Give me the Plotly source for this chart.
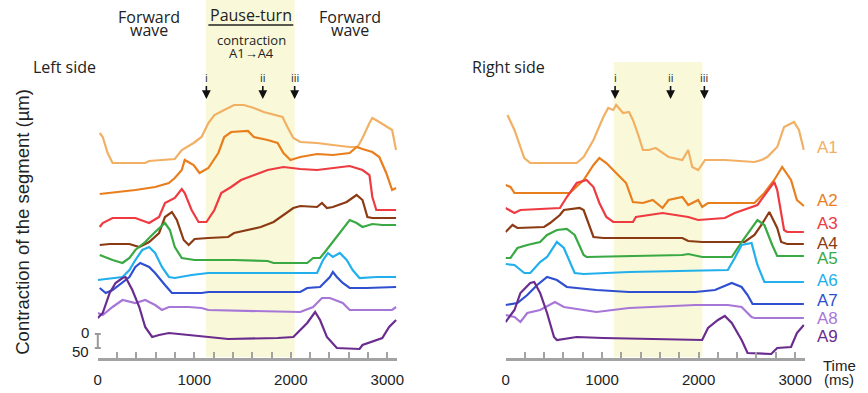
import plotly.graph_objects as go

W, H = 868, 393

# ---------------- data: time (ms) and stacked contraction trace level ----------------
# Left side
L_A1_T = [20, 51, 102, 153, 491, 532, 798, 870, 993, 1075, 1146, 1208, 1310, 1412, 1515, 1617, 1720, 1822, 1914, 1965, 2026, 2098, 2272, 2436, 2610, 2692, 2743, 2815, 2845, 2917, 3019, 3050, 3091]
L_A1_V = [225, 221, 205, 195, 195, 197, 199, 208, 215, 221, 235, 243, 248, 253, 253, 250, 246, 243, 241, 231, 220, 216, 215, 213, 211, 211, 220, 235, 240, 236, 230, 228, 208]
L_A2_T = [20, 123, 389, 594, 737, 798, 870, 901, 942, 993, 1054, 1146, 1249, 1310, 1382, 1556, 1617, 1760, 1863, 1924, 1996, 2098, 2272, 2436, 2610, 2682, 2743, 2845, 2917, 2989, 3050, 3091]
L_A2_V = [164, 165, 168, 171, 175, 180, 188, 198, 196, 193, 185, 190, 205, 221, 226, 227, 221, 218, 215, 205, 198, 201, 204, 203, 205, 211, 209, 206, 201, 185, 168, 170]
L_A3_T = [20, 51, 153, 389, 532, 635, 696, 798, 870, 901, 972, 1044, 1126, 1208, 1279, 1382, 1484, 1617, 1760, 1924, 2098, 2272, 2436, 2610, 2743, 2815, 2845, 2886, 3091]
L_A3_V = [131, 135, 140, 140, 135, 141, 155, 160, 169, 165, 148, 136, 136, 148, 165, 171, 178, 183, 188, 191, 189, 188, 190, 192, 188, 183, 161, 148, 148]
L_A4_T = [20, 123, 328, 430, 532, 635, 696, 768, 819, 890, 942, 1003, 1146, 1351, 1412, 1556, 1689, 1822, 1924, 2026, 2098, 2272, 2323, 2374, 2436, 2579, 2682, 2743, 2794, 2845, 3091]
L_A4_V = [113, 114, 114, 111, 116, 125, 141, 146, 138, 118, 113, 119, 120, 121, 125, 128, 131, 136, 143, 150, 152, 151, 155, 150, 151, 156, 163, 158, 141, 140, 140]
L_A5_T = [20, 153, 256, 328, 389, 491, 594, 696, 747, 798, 870, 1003, 1412, 1760, 1822, 2170, 2231, 2303, 2354, 2436, 2508, 2610, 2682, 2743, 2845, 2948, 3091]
L_A5_V = [103, 98, 95, 100, 108, 116, 126, 135, 128, 111, 100, 98, 98, 97, 95, 95, 100, 100, 106, 116, 125, 138, 135, 131, 134, 133, 133]
L_A6_T = [0, 153, 256, 328, 389, 461, 532, 594, 665, 737, 798, 972, 1146, 2272, 2334, 2385, 2436, 2508, 2579, 2641, 2712, 2886, 3091]
L_A6_V = [78, 80, 81, 88, 98, 108, 111, 105, 91, 81, 80, 83, 85, 85, 98, 105, 101, 105, 98, 88, 80, 81, 81]
L_A7_T = [20, 82, 153, 225, 328, 389, 440, 532, 594, 696, 768, 1075, 1146, 2098, 2170, 2303, 2405, 2436, 2477, 2538, 2610, 2784, 3091]
L_A7_V = [70, 65, 68, 73, 81, 91, 95, 91, 85, 73, 65, 65, 66, 66, 70, 71, 81, 86, 81, 75, 70, 70, 71]
L_A8_T = [0, 51, 153, 256, 389, 491, 594, 665, 737, 942, 1075, 1146, 2098, 2231, 2323, 2405, 2538, 2610, 3050, 3091]
L_A8_V = [45, 43, 51, 58, 55, 58, 53, 48, 51, 51, 50, 48, 46, 51, 60, 60, 55, 48, 48, 51]
L_A9_T = [0, 51, 123, 184, 256, 287, 358, 430, 491, 563, 635, 737, 942, 1146, 1351, 1863, 2026, 2098, 2170, 2252, 2303, 2374, 2477, 2712, 2743, 2948, 3019, 3091]
L_A9_V = [40, 45, 65, 75, 80, 81, 68, 51, 31, 21, 23, 25, 23, 21, 19, 20, 21, 28, 35, 46, 38, 21, 10, 9, 13, 20, 31, 38]

# Right side
R_A1_T = [20, 92, 194, 256, 737, 809, 911, 1013, 1064, 1116, 1146, 1218, 1279, 1320, 1382, 1423, 1484, 1556, 1689, 1832, 1893, 1934, 1996, 2067, 2272, 2579, 2651, 2712, 2815, 2886, 2989, 3040, 3091]
R_A1_V = [243, 228, 200, 195, 195, 201, 218, 241, 250, 248, 253, 245, 246, 238, 221, 208, 208, 210, 201, 198, 208, 191, 188, 198, 198, 196, 198, 201, 211, 231, 236, 228, 208]
R_A2_T = [0, 51, 92, 665, 809, 911, 972, 1044, 1146, 1249, 1320, 1423, 1525, 1627, 1689, 1832, 1893, 1996, 2037, 2098, 2579, 2682, 2784, 2866, 2958, 3019, 3091]
R_A2_V = [173, 171, 165, 165, 178, 193, 200, 195, 185, 175, 156, 155, 158, 150, 158, 161, 153, 158, 151, 155, 155, 165, 178, 191, 178, 158, 152]
R_A3_T = [0, 92, 154, 563, 635, 737, 839, 911, 972, 1044, 1116, 1320, 1351, 1627, 1893, 1996, 2272, 2375, 2610, 2682, 2784, 2815, 2886, 2917, 3091]
R_A3_V = [150, 145, 148, 150, 161, 175, 178, 171, 155, 141, 136, 136, 141, 145, 141, 138, 140, 145, 153, 163, 176, 168, 128, 126, 126]
R_A4_T = [0, 72, 123, 399, 461, 563, 604, 768, 809, 911, 1013, 1832, 1893, 2037, 2477, 2579, 2651, 2733, 2815, 2856, 2917, 3091]
R_A4_V = [126, 133, 130, 131, 135, 143, 148, 150, 148, 121, 120, 120, 117, 116, 116, 123, 133, 146, 130, 116, 114, 114]
R_A5_T = [0, 51, 123, 225, 358, 430, 532, 635, 716, 809, 839, 1832, 1893, 2037, 2344, 2446, 2610, 2682, 2763, 2815, 3091]
R_A5_V = [100, 100, 110, 113, 116, 123, 128, 129, 123, 103, 101, 103, 104, 101, 101, 116, 138, 133, 113, 102, 102]
R_A6_T = [0, 92, 194, 256, 358, 430, 532, 604, 716, 809, 1279, 2303, 2375, 2446, 2549, 2610, 2682, 3091]
R_A6_V = [94, 93, 85, 85, 96, 101, 116, 110, 85, 84, 86, 88, 100, 113, 115, 93, 76, 76]
R_A7_T = [0, 123, 225, 328, 430, 532, 635, 942, 1279, 1965, 2170, 2344, 2446, 2508, 2559, 3091]
R_A7_V = [53, 55, 63, 73, 81, 78, 71, 68, 66, 66, 68, 75, 71, 63, 54, 54]
R_A8_T = [0, 92, 154, 225, 358, 512, 604, 942, 1279, 1965, 2303, 2446, 2549, 2579, 3091]
R_A8_V = [43, 41, 36, 45, 48, 56, 51, 46, 50, 53, 53, 51, 41, 40, 40]
R_A9_T = [0, 92, 154, 256, 297, 358, 430, 502, 532, 665, 737, 1013, 2037, 2098, 2201, 2272, 2344, 2446, 2508, 2753, 2815, 2958, 3019, 3091]
R_A9_V = [36, 48, 65, 75, 76, 65, 45, 21, 18, 20, 21, 20, 18, 30, 38, 42, 35, 18, 5, 4, 10, 11, 25, 33]

SEGMENTS = ["A1", "A2", "A3", "A4", "A5", "A6", "A7", "A8", "A9"]
COLORS = ["#f1b064", "#e97e1d", "#ee3a40", "#8c3a14", "#3aa944", "#22b0ec", "#2f4fd0", "#a777d8", "#6a2c8e"]
LABEL_ROWS = [147, 200, 223, 243, 258, 280, 300, 318, 336]   # label centre, px from top

X_TICKS = list(range(0, 3001, 200))
X_TICK_TEXT = [str(v) if v % 1000 == 0 else "" for v in X_TICKS]

SHADE_START, SHADE_END = 1120, 2040
ARROWS_L = [("i", 1125), ("ii", 1710), ("iii", 2040)]
ARROWS_R = [("i", 1135), ("ii", 1710), ("iii", 2060)]

left = [(L_A1_T, L_A1_V), (L_A2_T, L_A2_V), (L_A3_T, L_A3_V), (L_A4_T, L_A4_V), (L_A5_T, L_A5_V),
        (L_A6_T, L_A6_V), (L_A7_T, L_A7_V), (L_A8_T, L_A8_V), (L_A9_T, L_A9_V)]
right = [(R_A1_T, R_A1_V), (R_A2_T, R_A2_V), (R_A3_T, R_A3_V), (R_A4_T, R_A4_V), (R_A5_T, R_A5_V),
         (R_A6_T, R_A6_V), (R_A7_T, R_A7_V), (R_A8_T, R_A8_V), (R_A9_T, R_A9_V)]

fig = go.Figure()
for (t, v), name, c in zip(left, SEGMENTS, COLORS):
    fig.add_trace(go.Scatter(x=t, y=v, mode="lines", name=name, line=dict(color=c, width=2.2),
                             xaxis="x", yaxis="y", hoverinfo="skip"))
for (t, v), name, c in zip(right, SEGMENTS, COLORS):
    fig.add_trace(go.Scatter(x=t, y=v, mode="lines", name=name, line=dict(color=c, width=2.2),
                             xaxis="x2", yaxis="y2", hoverinfo="skip"))

def px(p):
    return p / W

def py(p):
    return 1 - p / H

YDOM = [py(358), 1]
axis_common = dict(range=[0, 3100], showgrid=False, zeroline=False, showline=True,
                   linecolor="#a3a3a3", linewidth=3, ticks="inside", ticklen=6, tickwidth=2,
                   tickcolor="#a3a3a3", tickvals=X_TICKS, ticktext=X_TICK_TEXT,
                   tickfont=dict(family="Liberation Sans, Arial", size=15, color="#222"),
                   ticklabelstandoff=6, fixedrange=True)
fig.update_layout(
    width=W, height=H, margin=dict(l=0, r=0, t=0, b=0),
    paper_bgcolor="white", plot_bgcolor="rgba(0,0,0,0)", showlegend=False,
    xaxis=dict(domain=[px(95), px(398)], anchor="y", **axis_common),
    xaxis2=dict(domain=[px(508), px(811)], anchor="y2", **axis_common),
    yaxis=dict(domain=YDOM, range=[0, 358], visible=False, fixedrange=True),
    yaxis2=dict(domain=YDOM, range=[0, 358], visible=False, fixedrange=True),
)

shapes = [
    dict(type="rect", xref="x", yref="paper", x0=SHADE_START, x1=SHADE_END, y0=py(357), y1=1,
         fillcolor="#f9f9d9", line=dict(width=0), layer="below"),
    dict(type="rect", xref="x2", yref="paper", x0=SHADE_START, x1=SHADE_END, y0=py(357), y1=py(62),
         fillcolor="#f9f9d9", line=dict(width=0), layer="below"),
    dict(type="line", xref="paper", yref="paper", x0=px(207), x1=px(293), y0=py(25), y1=py(25),
         line=dict(color="#222", width=1.5)),
    # 50 um scale bar
    dict(type="line", xref="paper", yref="paper", x0=px(95), x1=px(95), y0=py(334), y1=py(348),
         line=dict(color="#999", width=2)),
    dict(type="line", xref="paper", yref="paper", x0=px(92), x1=px(98), y0=py(334), y1=py(334),
         line=dict(color="#999", width=2)),
    dict(type="line", xref="paper", yref="paper", x0=px(92), x1=px(98), y0=py(348), y1=py(348),
         line=dict(color="#999", width=2)),
]
fig.update_layout(shapes=shapes)

ann = []
def text(x, y, s, size, family="Open Sans", color="#222", xanchor="center", **kw):
    ann.append(dict(x=px(x), y=py(y), xref="paper", yref="paper", text=s, showarrow=False,
                    xanchor=xanchor, yanchor="middle", font=dict(family=family, size=size, color=color), **kw))

HEAD = "Open Sans"
text(147, 17, "Forward", 16, HEAD)
text(147, 30, "wave", 16, HEAD)
text(250, 15, "Pause-turn", 16, HEAD)
text(251, 40, "contraction", 13, HEAD)
text(251, 53, "A1→A4", 13, HEAD)
text(350, 17, "Forward", 16, HEAD)
text(350, 30, "wave", 16, HEAD)
text(27, 67, "Left side", 16, HEAD, xanchor="left")
text(472, 67, "Right side", 16, HEAD, xanchor="left")
text(846, 365, "Time", 15, "Liberation Sans, Arial")
text(846, 379, "(ms)", 15, "Liberation Sans, Arial")
text(88, 332, "0", 15, "Liberation Sans, Arial", xanchor="right")
text(88, 351, "50", 15, "Liberation Sans, Arial", xanchor="right")
ann.append(dict(x=px(18), y=py(222), xref="paper", yref="paper", text="Contraction of the segment (µm)",
                showarrow=False, textangle=-90, xanchor="center", yanchor="middle",
                font=dict(family="Liberation Sans, Arial", size=18.5, color="#222")))

for name, c, row in zip(SEGMENTS, COLORS, LABEL_ROWS):
    text(821, row, name, 17, "Liberation Sans, Arial", color=c, xanchor="left")

for arrows, xr, yr in [(ARROWS_L, "x", "y"), (ARROWS_R, "x2", "y2")]:
    for lab, t in arrows:
        ann.append(dict(x=t, y=259, xref=xr, yref=yr, text=lab, showarrow=True, ax=0, ay=-22,
                        arrowhead=2, arrowsize=1.1, arrowwidth=1.6, arrowcolor="#111",
                        font=dict(family="Open Sans", size=11, color="#222")))

fig.update_layout(annotations=ann)
fig.write_html("out.html", config={"displayModeBar": False},
               post_script="document.body.style.margin='0';document.body.style.overflow='hidden';")
